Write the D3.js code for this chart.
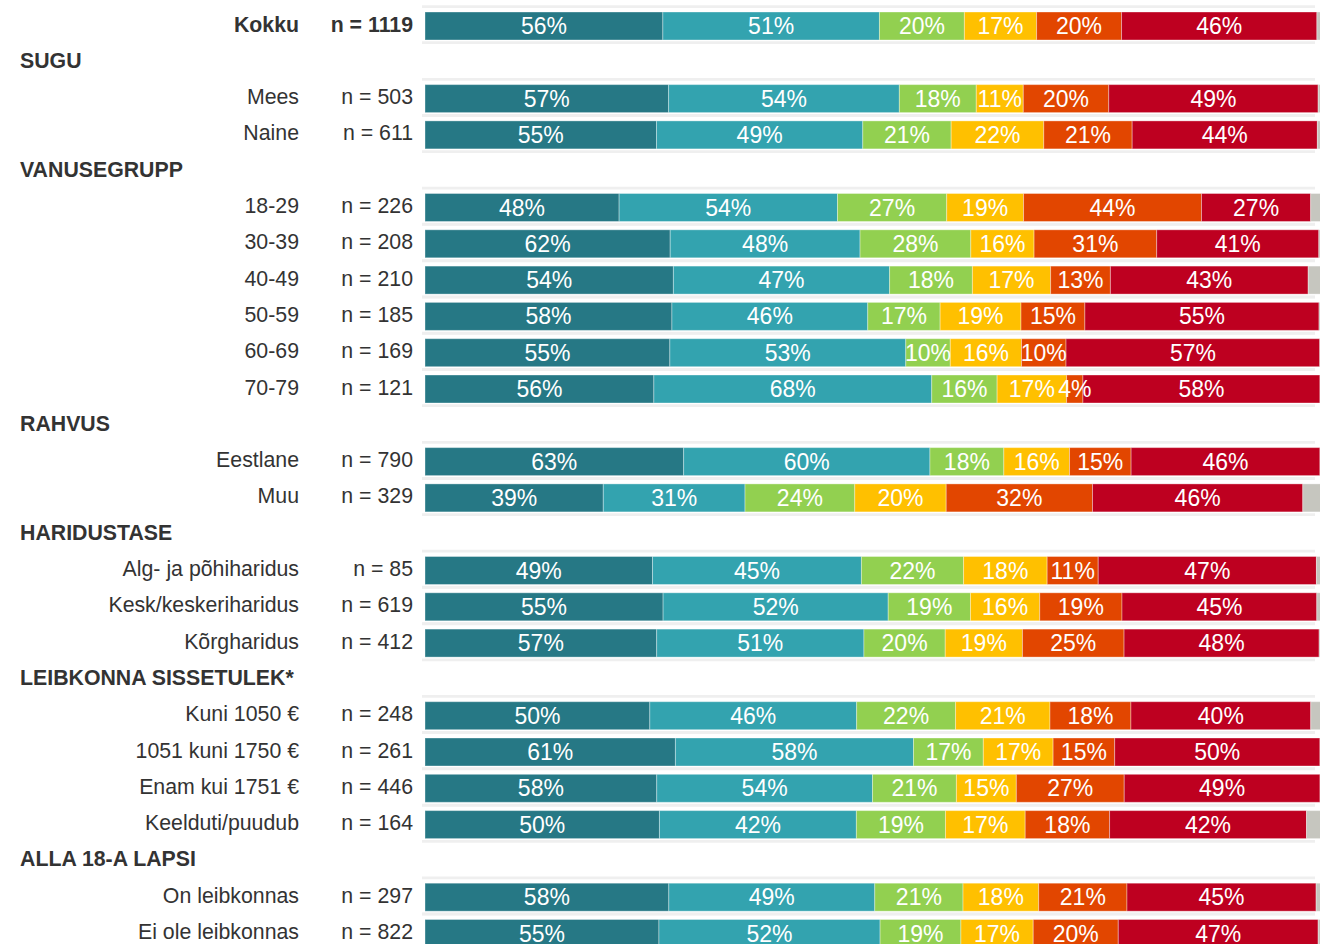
<!DOCTYPE html>
<html>
<head>
<meta charset="utf-8">
<script src="https://cdn.jsdelivr.net/npm/d3@7"></script>
<style>
  html, body { margin: 0; padding: 0; background: #ffffff; overflow: hidden; }
  svg { display: block; font-family: "Liberation Sans", Arial, Helvetica, sans-serif; }
</style>
</head>
<body>
<svg id="chart" width="1320" height="944"></svg>
<script>
// Group headings (index 0 = overall row, no heading)
const groups = ["", "SUGU", "VANUSEGRUPP", "RAHVUS", "HARIDUSTASE", "LEIBKONNA SISSETULEK*", "ALLA 18-A LAPSI"];

// Row labels, their group and sample size
const categories = ["Kokku", "Mees", "Naine", "18-29", "30-39", "40-49", "50-59", "60-69", "70-79",
  "Eestlane", "Muu", "Alg- ja põhiharidus", "Kesk/keskeriharidus", "Kõrgharidus",
  "Kuni 1050 €", "1051 kuni 1750 €", "Enam kui 1751 €", "Keelduti/puudub",
  "On leibkonnas", "Ei ole leibkonnas"];
const groupOf = [0, 1, 1, 2, 2, 2, 2, 2, 2, 3, 3, 4, 4, 4, 5, 5, 5, 5, 6, 6];
const nValues = [1119, 503, 611, 226, 208, 210, 185, 169, 121, 790, 329, 85, 619, 412, 248, 261, 446, 164, 297, 822];

// Series values (%), one array per answer
const seriesA = [56, 57, 55, 48, 62, 54, 58, 55, 56, 63, 39, 49, 55, 57, 50, 61, 58, 50, 58, 55];
const seriesB = [51, 54, 49, 54, 48, 47, 46, 53, 68, 60, 31, 45, 52, 51, 46, 58, 54, 42, 49, 52];
const seriesC = [20, 18, 21, 27, 28, 18, 17, 10, 16, 18, 24, 22, 19, 20, 22, 17, 21, 19, 21, 19];
const seriesD = [17, 11, 22, 19, 16, 17, 19, 16, 17, 16, 20, 18, 16, 19, 21, 17, 15, 17, 18, 17];
const seriesE = [20, 20, 21, 44, 31, 13, 15, 10, 4, 15, 32, 11, 19, 25, 18, 15, 27, 18, 21, 20];
const seriesF = [46, 49, 44, 27, 41, 43, 55, 57, 58, 46, 46, 47, 45, 48, 40, 50, 49, 42, 45, 47];
// Unlabelled remainder
const seriesOther = [1.2, 0.9, 1.1, 2.8, 0.8, 3.0, 0.7, 0.5, 0.5, 0.5, 4.2, 1.2, 1.2, 0.7, 2.5, 0.5, 0.5, 3.3, 1.4, 0.9];

const keys = ["a", "b", "c", "d", "e", "f", "other"];
const seriesArrays = [seriesA, seriesB, seriesC, seriesD, seriesE, seriesF, seriesOther];
const colors = ["#267885", "#33a3af", "#92d050", "#ffc000", "#e24600", "#be0020", "#c6c6bf"];

// Table for the stack layout
const table = categories.map((c, i) => {
  const row = { name: c, n: nValues[i], group: groupOf[i], idx: i };
  keys.forEach((k, j) => row[k] = seriesArrays[j][i]);
  return row;
});

// Slot list: rows interleaved with group headings
const slots = [];
table.forEach((r, i) => {
  if (i > 0 && r.group !== table[i - 1].group) slots.push({ id: "h" + r.group, type: "header", text: groups[r.group] });
  slots.push({ id: "r" + i, type: "row", row: r });
});

const svg = d3.select("#chart");
const step = 36.3;
const top0 = 26 - step / 2;
const barH = 28;
const pad = 1 - barH / step;

const y = d3.scaleBand()
  .domain(slots.map(s => s.id))
  .range([top0, top0 + step * slots.length])
  .paddingInner(pad)
  .paddingOuter(pad / 2);

const x = d3.scaleLinear().domain([0, 1]).range([425, 1322]);

const stacked = d3.stack().keys(keys).offset(d3.stackOffsetExpand)(table);

const textColor = "#333333";
const labelSize = 21.3;
const rowSlots = slots.filter(s => s.type === "row");

// Light rules above and below each bar
const rules = svg.append("g");
rowSlots.forEach(s => {
  const t = y(s.id);
  [t - 5.3, t + barH + 2.7].forEach(ly => {
    rules.append("line")
      .attr("x1", 422).attr("x2", 1315)
      .attr("y1", ly).attr("y2", ly)
      .attr("stroke", "#efefef")
      .attr("stroke-width", 2.7);
  });
});

// Bars
const barG = svg.append("g");
stacked.forEach((layer, li) => {
  const g = barG.append("g").attr("fill", colors[li]);
  g.selectAll("rect")
    .data(layer)
    .join("rect")
    .attr("x", d => x(d[0]))
    .attr("y", d => y("r" + d.data.idx))
    .attr("width", d => x(d[1]) - x(d[0]))
    .attr("height", barH)
    .attr("stroke", "rgba(255,255,255,0.35)")
    .attr("stroke-width", 1);
});

// Value labels inside the segments
const labG = svg.append("g")
  .attr("fill", "#ffffff")
  .attr("font-size", 23)
  .attr("text-anchor", "middle");
stacked.forEach((layer, li) => {
  if (keys[li] === "other") return;
  labG.append("g").selectAll("text")
    .data(layer)
    .join("text")
    .attr("x", d => (x(d[0]) + x(d[1])) / 2)
    .attr("y", d => y("r" + d.data.idx) + barH / 2 + 8)
    .text(d => d.data[keys[li]] + "%");
});

// Row labels and sample sizes
const lab = svg.append("g").attr("fill", textColor).attr("font-size", labelSize);
rowSlots.forEach(s => {
  const cy = y(s.id) + barH / 2 + 5.5;
  const bold = s.row.idx === 0;
  lab.append("text")
    .attr("x", 299).attr("y", cy)
    .attr("text-anchor", "end")
    .attr("font-weight", bold ? "bold" : "normal")
    .text(s.row.name);
  lab.append("text")
    .attr("x", 413).attr("y", cy)
    .attr("text-anchor", "end")
    .attr("font-weight", bold ? "bold" : "normal")
    .text("n = " + s.row.n);
});

// Group headings
slots.filter(s => s.type === "header").forEach(s => {
  lab.append("text")
    .attr("x", 20)
    .attr("y", y(s.id) + barH / 2 + 5.5)
    .attr("font-weight", "bold")
    .text(s.text);
});
</script>
</body>
</html>
